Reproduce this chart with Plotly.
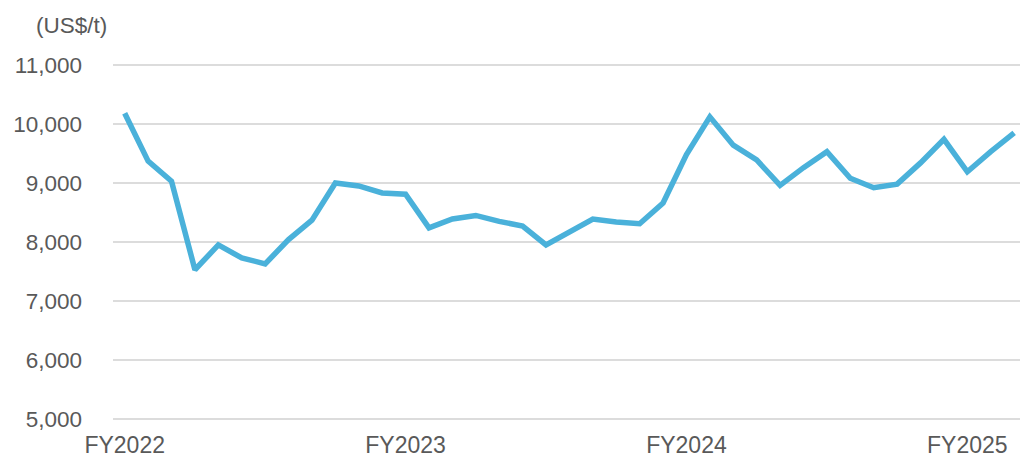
import plotly.graph_objects as go

# Monthly price, April 2022 - June 2025
months = [
    "2022-04", "2022-05", "2022-06", "2022-07", "2022-08", "2022-09",
    "2022-10", "2022-11", "2022-12", "2023-01", "2023-02", "2023-03",
    "2023-04", "2023-05", "2023-06", "2023-07", "2023-08", "2023-09",
    "2023-10", "2023-11", "2023-12", "2024-01", "2024-02", "2024-03",
    "2024-04", "2024-05", "2024-06", "2024-07", "2024-08", "2024-09",
    "2024-10", "2024-11", "2024-12", "2025-01", "2025-02", "2025-03",
    "2025-04", "2025-05", "2025-06",
]
price = [
    10180, 9370, 9030, 7530, 7950, 7730, 7630, 8040, 8370, 9000, 8950, 8830,
    8810, 8240, 8390, 8450, 8350, 8270, 7950, 8180, 8390, 8340, 8310, 8660,
    9480, 10120, 9640, 9390, 8960, 9260, 9530, 9080, 8920, 8980, 9340, 9740,
    9190, 9530, 9850,
]
fy_ticks = ["2022-04", "2023-04", "2024-04", "2025-04"]
fy_labels = ["FY2022", "FY2023", "FY2024", "FY2025"]
y_ticks = [5000, 6000, 7000, 8000, 9000, 10000, 11000]
unit_label = "(US$/t)"

text_color = "#595959"
font_family = "Liberation Sans, Arial, sans-serif"

fig = go.Figure(
    go.Scatter(
        x=months,
        y=price,
        mode="lines",
        line=dict(color="#4AB1DA", width=5.5),
        hoverinfo="skip",
    )
)

fig.update_layout(
    template="none",
    width=1020,
    height=458,
    margin=dict(l=113, r=0, t=59, b=33, autoexpand=False),
    paper_bgcolor="white",
    plot_bgcolor="white",
    showlegend=False,
    font=dict(family=font_family, color=text_color),
    xaxis=dict(
        type="category",
        range=[-0.5, 38.25],
        tickmode="array",
        tickvals=fy_ticks,
        ticktext=fy_labels,
        showgrid=False,
        zeroline=False,
        showline=False,
        ticks="",
        tickfont=dict(size=23, color=text_color),
        ticklabelstandoff=4,
        automargin=False,
    ),
    yaxis=dict(
        range=[4900, 11100],
        tickmode="array",
        tickvals=y_ticks,
        tickformat=",d",
        showgrid=True,
        gridcolor="#DCDCDC",
        gridwidth=2,
        zeroline=False,
        showline=False,
        ticks="",
        tickfont=dict(size=22.5, color=text_color),
        ticklabelstandoff=30,
        automargin=False,
    ),
    annotations=[
        dict(
            text=unit_label,
            xref="paper", yref="paper",
            x=0, y=1,
            xanchor="center", yanchor="middle",
            xshift=-42, yshift=34,
            showarrow=False,
            font=dict(size=22.5, color=text_color, family=font_family),
        )
    ],
)

fig.write_html("out.html")
